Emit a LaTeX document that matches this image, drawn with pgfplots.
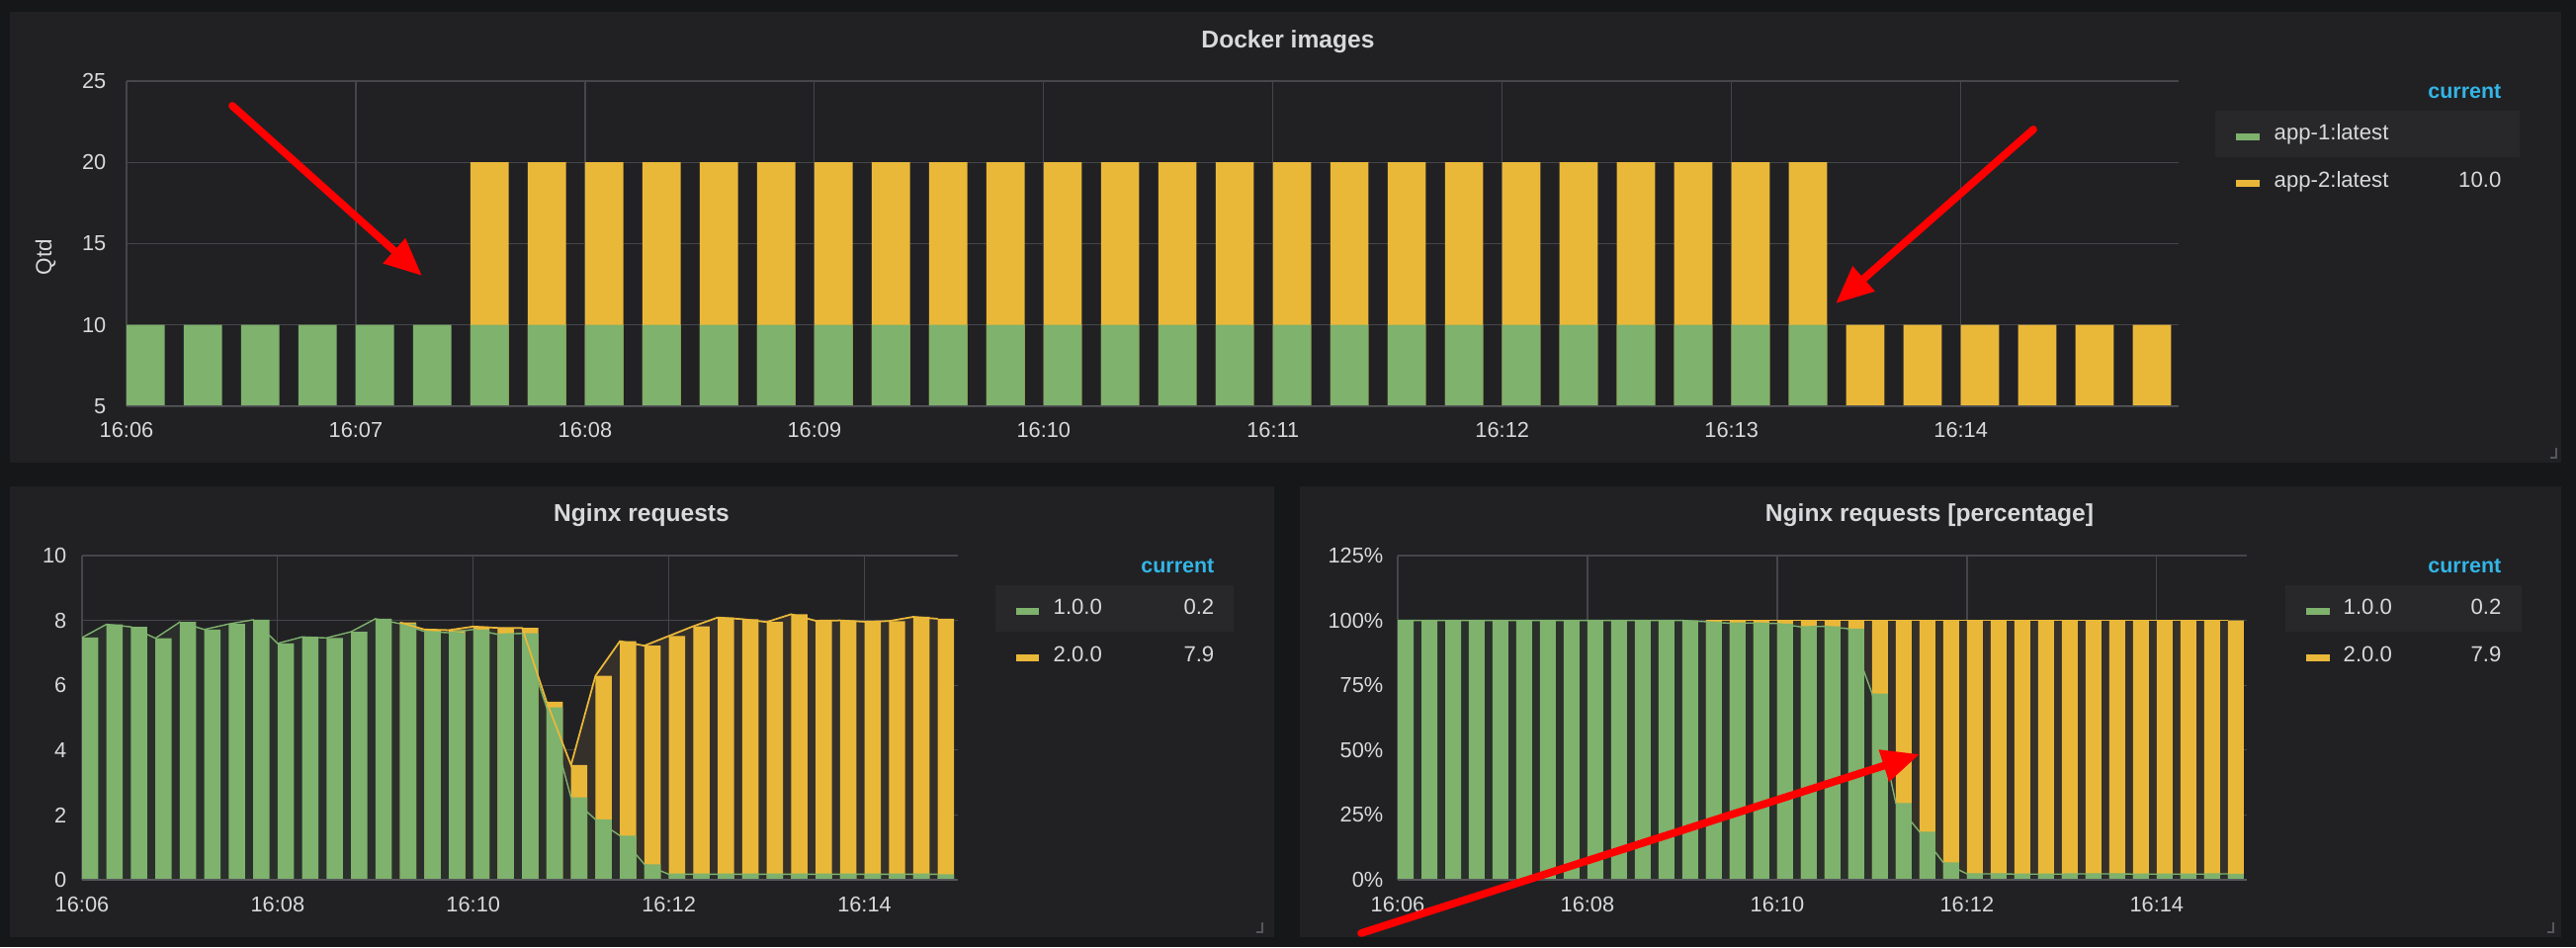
\documentclass[border=0pt]{standalone}
\usepackage{pgfplots}
\pgfplotsset{compat=1.18}
\usepackage{pgfplotstable}
\usepackage{fontspec}
\setmainfont{Liberation Sans}
\usetikzlibrary{arrows.meta}

\definecolor{pagebg}{HTML}{161719}
\definecolor{panelbg}{HTML}{212124}
\definecolor{gfgreen}{HTML}{7EB26D}
\definecolor{gfyellow}{HTML}{EAB839}
\definecolor{greentint}{HTML}{2A2F2B}
\definecolor{yellowtint}{HTML}{35302A}
\definecolor{gridc}{HTML}{45464A}
\definecolor{axisc}{HTML}{56575B}
\definecolor{txt}{HTML}{D8D9DA}
\definecolor{curblue}{HTML}{33B5E5}
\definecolor{rowhl}{HTML}{28282B}
\definecolor{arrowred}{HTML}{FF0000}

% Docker images: t = seconds after 16:06:00, a = app-1:latest, b = app-2:latest
\pgfplotstableread{
t a b
0 10 0
15 10 0
30 10 0
45 10 0
60 10 0
75 10 0
90 10 10
105 10 10
120 10 10
135 10 10
150 10 10
165 10 10
180 10 10
195 10 10
210 10 10
225 10 10
240 10 10
255 10 10
270 10 10
285 10 10
300 10 10
315 10 10
330 10 10
345 10 10
360 10 10
375 10 10
390 10 10
405 10 10
420 10 10
435 10 10
450 0 10
465 0 10
480 0 10
495 0 10
510 0 10
525 0 10
}\docker

% Nginx requests: g = 1.0.0, y = 2.0.0
\pgfplotstableread{
t g y
0 7.47 0
15 7.88 0
30 7.80 0
45 7.45 0
60 7.95 0
75 7.72 0
90 7.89 0
105 8.02 0
120 7.29 0
135 7.49 0
150 7.46 0
165 7.65 0
180 8.05 0
195 7.90 0.04
210 7.66 0.06
225 7.62 0.08
240 7.72 0.09
255 7.57 0.20
270 7.60 0.17
285 5.32 0.17
300 2.54 1.00
315 1.86 4.43
330 1.36 6.00
345 0.48 6.74
360 0.17 7.35
375 0.17 7.65
390 0.17 7.92
405 0.17 7.87
420 0.17 7.78
435 0.17 8.02
450 0.17 7.82
465 0.17 7.83
480 0.17 7.79
495 0.17 7.81
510 0.17 7.94
525 0.17 7.88
}\nginx

% Nginx requests [percentage]: p = 1.0.0, q = 2.0.0
\pgfplotstableread{
t p q
0 100 0
15 100 0
30 100 0
45 100 0
60 100 0
75 100 0
90 100 0
105 100 0
120 100 0
135 100 0
150 100 0
165 100 0
180 100 0
195 99.5 0.5
210 98.9 1.1
225 99.0 1.0
240 98.8 1.2
255 97.5 2.5
270 97.7 2.3
285 96.8 3.2
300 71.8 28.2
315 29.6 70.4
330 18.5 81.5
345 6.7 93.3
360 2.3 97.7
375 2.3 97.7
390 2.2 97.8
405 2.2 97.8
420 2.2 97.8
435 2.3 97.7
450 2.3 97.7
465 2.2 97.8
480 2.2 97.8
495 2.2 97.8
510 2.2 97.8
525 2.3 97.7
}\pct

\pgfplotsset{
  gf/.style={
    scale only axis, anchor=south west,
    axis line style={draw=none},
    major tick length=0pt,
    grid=major,
    major grid style={draw=gridc, line width=0.35pt},
    tick label style={text=txt, font=\fontsize{6.2}{7}\selectfont},
    xticklabel style={anchor=base, yshift=-3.2mm, inner sep=0pt},
    yticklabel style={anchor=east, inner sep=0pt},
    xmin=0, xmax=537,
    enlargelimits=false,
  },
  gbar/.style={ybar, bar width=10, bar shift=5, draw=none, fill=gfgreen},
  ybarY/.style={ybar, bar width=10, bar shift=5, draw=none, fill=gfyellow},
}

\begin{document}
\begin{tikzpicture}
\fill[pagebg] (0,0) rectangle (26.06,9.58);
\fill[panelbg] (0.10,4.90) rectangle (25.91,9.46);
\fill[panelbg] (0.10,0.10) rectangle (12.89,4.66);
\fill[panelbg] (13.15,0.10) rectangle (25.91,4.66);

% ---------------- Docker images ----------------
\begin{axis}[gf, at={(1.28cm,5.47cm)}, width=20.76cm, height=3.29cm,
  ymin=5, ymax=25, ytick={5,10,15,20,25}, yticklabels={5,10,15,20,25},
  yticklabel style={xshift=-2mm},
  xtick={0,60,...,480},
  xticklabels={16:06,16:07,16:08,16:09,16:10,16:11,16:12,16:13,16:14}]
\addplot[ybarY] table[x=t, y expr=\thisrow{a}+\thisrow{b}, skip coords between index={0}{6}] {\docker};
\addplot[gbar] table[x=t, y=a, skip coords between index={30}{36}] {\docker};
\draw[axisc, line width=0.6pt] (rel axis cs:0,0) -- (rel axis cs:1,0);
\end{axis}

% ---------------- Nginx requests ----------------
\begin{axis}[gf, at={(0.83cm,0.68cm)}, width=8.855cm, height=3.28cm,
  ymin=0, ymax=10, ytick={0,2,4,6,8,10}, yticklabels={0,2,4,6,8,10},
  yticklabel style={xshift=-1.5mm},
  xtick={0,120,...,480},
  xticklabels={16:06,16:08,16:10,16:12,16:14}]
\addplot[fill=yellowtint, draw=none] table[x=t, y expr=\thisrow{g}+\thisrow{y}, skip coords between index={0}{13}] {\nginx} \closedcycle;
\addplot[fill=greentint, draw=none] table[x=t, y=g] {\nginx} \closedcycle;
\addplot[ybarY] table[x=t, y expr=\thisrow{g}+\thisrow{y}, skip coords between index={0}{13}] {\nginx};
\addplot[gbar] table[x=t, y=g] {\nginx};
\addplot[gfgreen, line width=0.4pt, mark=none] table[x=t, y=g] {\nginx};
\addplot[gfyellow, line width=0.5pt, mark=none] table[x=t, y expr=\thisrow{g}+\thisrow{y}, skip coords between index={0}{13}] {\nginx};
\draw[axisc, line width=0.6pt] (rel axis cs:0,0) -- (rel axis cs:1,0);
\end{axis}

% ---------------- Nginx requests [percentage] ----------------
\begin{axis}[gf, at={(14.14cm,0.68cm)}, width=8.59cm, height=3.28cm,
  ymin=0, ymax=125, ytick={0,25,50,75,100,125},
  yticklabels={0\%,25\%,50\%,75\%,100\%,125\%},
  yticklabel style={xshift=-1.4mm},
  xtick={0,120,...,480},
  xticklabels={16:06,16:08,16:10,16:12,16:14}]
\addplot[fill=yellowtint, draw=none] table[x=t, y expr=\thisrow{p}+\thisrow{q}, skip coords between index={0}{13}] {\pct} \closedcycle;
\addplot[fill=greentint, draw=none] table[x=t, y=p] {\pct} \closedcycle;
\addplot[ybarY] table[x=t, y expr=\thisrow{p}+\thisrow{q}, skip coords between index={0}{13}] {\pct};
\addplot[gbar] table[x=t, y=p] {\pct};
\addplot[gfgreen, line width=0.4pt, mark=none] table[x=t, y=p] {\pct};
\addplot[gfyellow, line width=0.5pt, mark=none] table[x=t, y expr=\thisrow{p}+\thisrow{q}, skip coords between index={0}{13}] {\pct};
\draw[axisc, line width=0.6pt] (rel axis cs:0,0) -- (rel axis cs:1,0);
\end{axis}

% ---------------- titles ----------------
\begin{scope}[every node/.style={text=txt, font=\fontsize{7}{8}\selectfont\bfseries, inner sep=0pt}]
\node[anchor=base] at (13.03,9.09) {Docker images};
\node[anchor=base] at (6.49,4.30) {Nginx requests};
\node[anchor=base] at (19.52,4.30) {Nginx requests [percentage]};
\end{scope}
\node[text=txt, font=\fontsize{6.4}{7}\selectfont, rotate=90, inner sep=0pt] at (0.46,6.98) {Qtd};

% ---------------- legends ----------------
\begin{scope}[every node/.style={text=txt, font=\fontsize{6.3}{7}\selectfont, inner sep=0pt}]
% top
\node[anchor=base east, text=curblue, font=\fontsize{6.1}{7}\selectfont\bfseries] at (25.31,8.58) {current};
\fill[rowhl] (22.41,7.99) rectangle (25.49,8.46);
\fill[gfgreen] (22.62,8.16) rectangle (22.86,8.23);
\node[anchor=base west] at (23.00,8.16) {app-1:latest};
\fill[gfyellow] (22.62,7.69) rectangle (22.86,7.76);
\node[anchor=base west] at (23.00,7.68) {app-2:latest};
\node[anchor=base east] at (25.31,7.68) {10.0};
% bottom left
\node[anchor=base east, text=curblue, font=\fontsize{6.1}{7}\selectfont\bfseries] at (12.29,3.78) {current};
\fill[rowhl] (10.07,3.19) rectangle (12.48,3.66);
\fill[gfgreen] (10.28,3.36) rectangle (10.51,3.43);
\node[anchor=base west] at (10.65,3.36) {1.0.0};
\node[anchor=base east] at (12.29,3.36) {0.2};
\fill[gfyellow] (10.28,2.89) rectangle (10.51,2.96);
\node[anchor=base west] at (10.65,2.88) {2.0.0};
\node[anchor=base east] at (12.29,2.88) {7.9};
% bottom right
\node[anchor=base east, text=curblue, font=\fontsize{6.1}{7}\selectfont\bfseries] at (25.31,3.78) {current};
\fill[rowhl] (23.12,3.19) rectangle (25.51,3.66);
\fill[gfgreen] (23.33,3.36) rectangle (23.57,3.43);
\node[anchor=base west] at (23.70,3.36) {1.0.0};
\node[anchor=base east] at (25.31,3.36) {0.2};
\fill[gfyellow] (23.33,2.89) rectangle (23.57,2.96);
\node[anchor=base west] at (23.70,2.88) {2.0.0};
\node[anchor=base east] at (25.31,2.88) {7.9};
\end{scope}

% resize corners
\draw[axisc, line width=0.8pt] (25.86,5.05) -- (25.86,4.95) -- (25.80,4.95);
\draw[axisc, line width=0.8pt] (12.77,0.25) -- (12.77,0.15) -- (12.71,0.15);
\draw[axisc, line width=0.8pt] (25.83,0.25) -- (25.83,0.15) -- (25.77,0.15);

% ---------------- red annotation arrows ----------------
\begin{scope}[arrowred, line width=2.2pt, line cap=round,
  -{Triangle[length=3.8mm, width=3.2mm]}]
\draw (2.35,8.51) -- (4.27,6.79);
\draw (20.57,8.27) -- (18.57,6.51);
\draw (13.77,0.14) -- (19.42,1.95);
\end{scope}
\end{tikzpicture}
\end{document}
